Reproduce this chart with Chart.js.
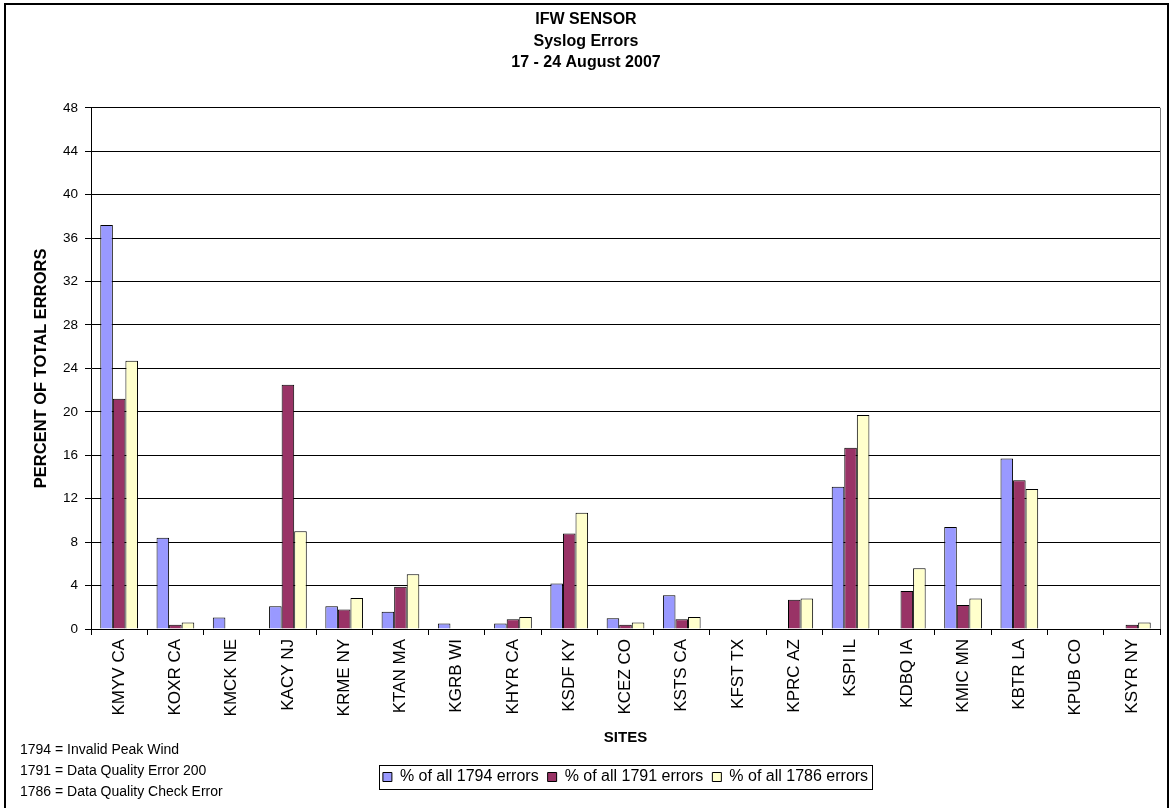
<!DOCTYPE html>
<html>
<head>
<meta charset="utf-8">
<script src="https://cdn.jsdelivr.net/npm/chart.js@4/dist/chart.umd.min.js"></script>
<style>
  html, body { margin: 0; padding: 0; background: #fff; }
  #wrap { position: relative; width: 1172px; height: 808px; }
  #notes { position: absolute; left: 20px; top: 739px; font: 14px "Liberation Sans", Arial, sans-serif; line-height: 21px; color: #000; }
</style>
</head>
<body>
<div id="wrap">
  <canvas id="chart" width="1172" height="808"></canvas>
  <div id="notes">
    <div>1794 = Invalid Peak Wind</div>
    <div>1791 = Data Quality Error 200</div>
    <div>1786 = Data Quality Check Error</div>
  </div>
</div>
<script>
// sites along the x axis
const sites = ['KMYV CA', 'KOXR CA', 'KMCK NE', 'KACY NJ', 'KRME NY', 'KTAN MA', 'KGRB WI', 'KHYR CA', 'KSDF KY', 'KCEZ CO',
  'KSTS CA', 'KFST TX', 'KPRC AZ', 'KSPI IL', 'KDBQ IA', 'KMIC MN', 'KBTR LA', 'KPUB CO', 'KSYR NY'];

// percent of all errors per code
const err1794 = [37.2, 8.4, 1.05, 2.1, 2.1, 1.6, 0.5, 0.5, 4.2, 1.0, 3.1, 0, 0, 13.1, 0, 9.4, 15.7, 0, 0];
const err1791 = [21.2, 0.4, 0, 22.5, 1.8, 3.9, 0, 0.9, 8.8, 0.4, 0.9, 0, 2.7, 16.7, 3.5, 2.2, 13.7, 0, 0.4];
const err1786 = [24.7, 0.6, 0, 9.0, 2.85, 5.05, 0, 1.1, 10.7, 0.6, 1.1, 0, 2.8, 19.7, 5.6, 2.8, 12.9, 0, 0.6];

const seriesNames = ['% of all 1794 errors', '% of all 1791 errors', '% of all 1786 errors'];
const titleLines = ['IFW SENSOR', 'Syslog Errors', '17 - 24 August 2007'];

const FONT = '"Liberation Sans", Arial, sans-serif';

// frame round the whole picture, right edge of plot, box round legend
const framePlugin = {
  id: 'frame',
  afterDraw(chart) {
    const ctx = chart.ctx;
    const a = chart.chartArea;
    ctx.save();
    ctx.strokeStyle = '#808080';
    ctx.lineWidth = 1;
    ctx.beginPath();
    ctx.moveTo(Math.round(a.right) + 0.5, a.top);
    ctx.lineTo(Math.round(a.right) + 0.5, a.bottom);
    ctx.stroke();

    ctx.strokeStyle = '#000';
    ctx.lineWidth = 2;
    ctx.beginPath();
    ctx.moveTo(5, 808);
    ctx.lineTo(5, 4);
    ctx.lineTo(1168, 4);
    ctx.lineTo(1168, 808);
    ctx.stroke();

    const boxes = chart.legend.legendHitBoxes;
    if (boxes && boxes.length) {
      let l = Infinity, r = -Infinity;
      boxes.forEach(b => { l = Math.min(l, b.left); r = Math.max(r, b.left + b.width); });
      const t = boxes[0].top;
      const h = boxes[0].height;
      ctx.lineWidth = 1;
      ctx.strokeRect(Math.round(l - 4) + 0.5, Math.round(t - 4) + 0.5, Math.round(r - l + 8), Math.round(h + 8));
    }
    ctx.restore();
  }
};

new Chart(document.getElementById('chart').getContext('2d'), {
  type: 'bar',
  data: {
    labels: sites,
    datasets: [
      { label: seriesNames[0], data: err1794, backgroundColor: '#9999FF' },
      { label: seriesNames[1], data: err1791, backgroundColor: '#993366' },
      { label: seriesNames[2], data: err1786, backgroundColor: '#FFFFCC' }
    ].map(d => Object.assign(d, { borderColor: '#000', borderWidth: 1, categoryPercentage: 0.67, barPercentage: 1 }))
  },
  options: {
    responsive: false,
    animation: false,
    devicePixelRatio: 1,
    layout: { padding: { left: 12, right: 12, top: 0, bottom: 13 } },
    scales: {
      x: {
        ticks: { color: '#000', font: { family: FONT, size: 17 }, maxRotation: 90, minRotation: 90, autoSkip: false, padding: 4 },
        grid: { offset: true, drawOnChartArea: false, color: '#000', tickLength: 6 },
        border: { color: '#000' },
        title: { display: true, text: 'SITES', color: '#000', font: { family: FONT, size: 15, weight: 'bold' }, padding: { top: 0, bottom: 13 } },
        afterFit(scale) { scale.height = 131; }
      },
      y: {
        min: 0,
        max: 48,
        ticks: { stepSize: 4, color: '#000', font: { family: FONT, size: 13.5 }, padding: 7 },
        grid: { color: '#000', tickLength: 6 },
        border: { color: '#000' },
        title: { display: true, text: 'PERCENT OF TOTAL ERRORS', color: '#000', font: { family: FONT, size: 16.5, weight: 'bold' }, padding: { top: 20, bottom: 0 } },
        afterFit(scale) { scale.width = 79; }
      }
    },
    plugins: {
      title: {
        display: true,
        text: titleLines,
        color: '#000',
        font: { family: FONT, size: 16, weight: 'bold', lineHeight: 1.35 },
        padding: { top: 9, bottom: 34 }
      },
      legend: {
        position: 'bottom',
        fullSize: false,
        labels: { color: '#000', font: { family: FONT, size: 16 }, boxWidth: 9, boxHeight: 9, padding: 9 }
      },
      tooltip: { enabled: false }
    }
  },
  plugins: [framePlugin]
});
</script>
</body>
</html>
